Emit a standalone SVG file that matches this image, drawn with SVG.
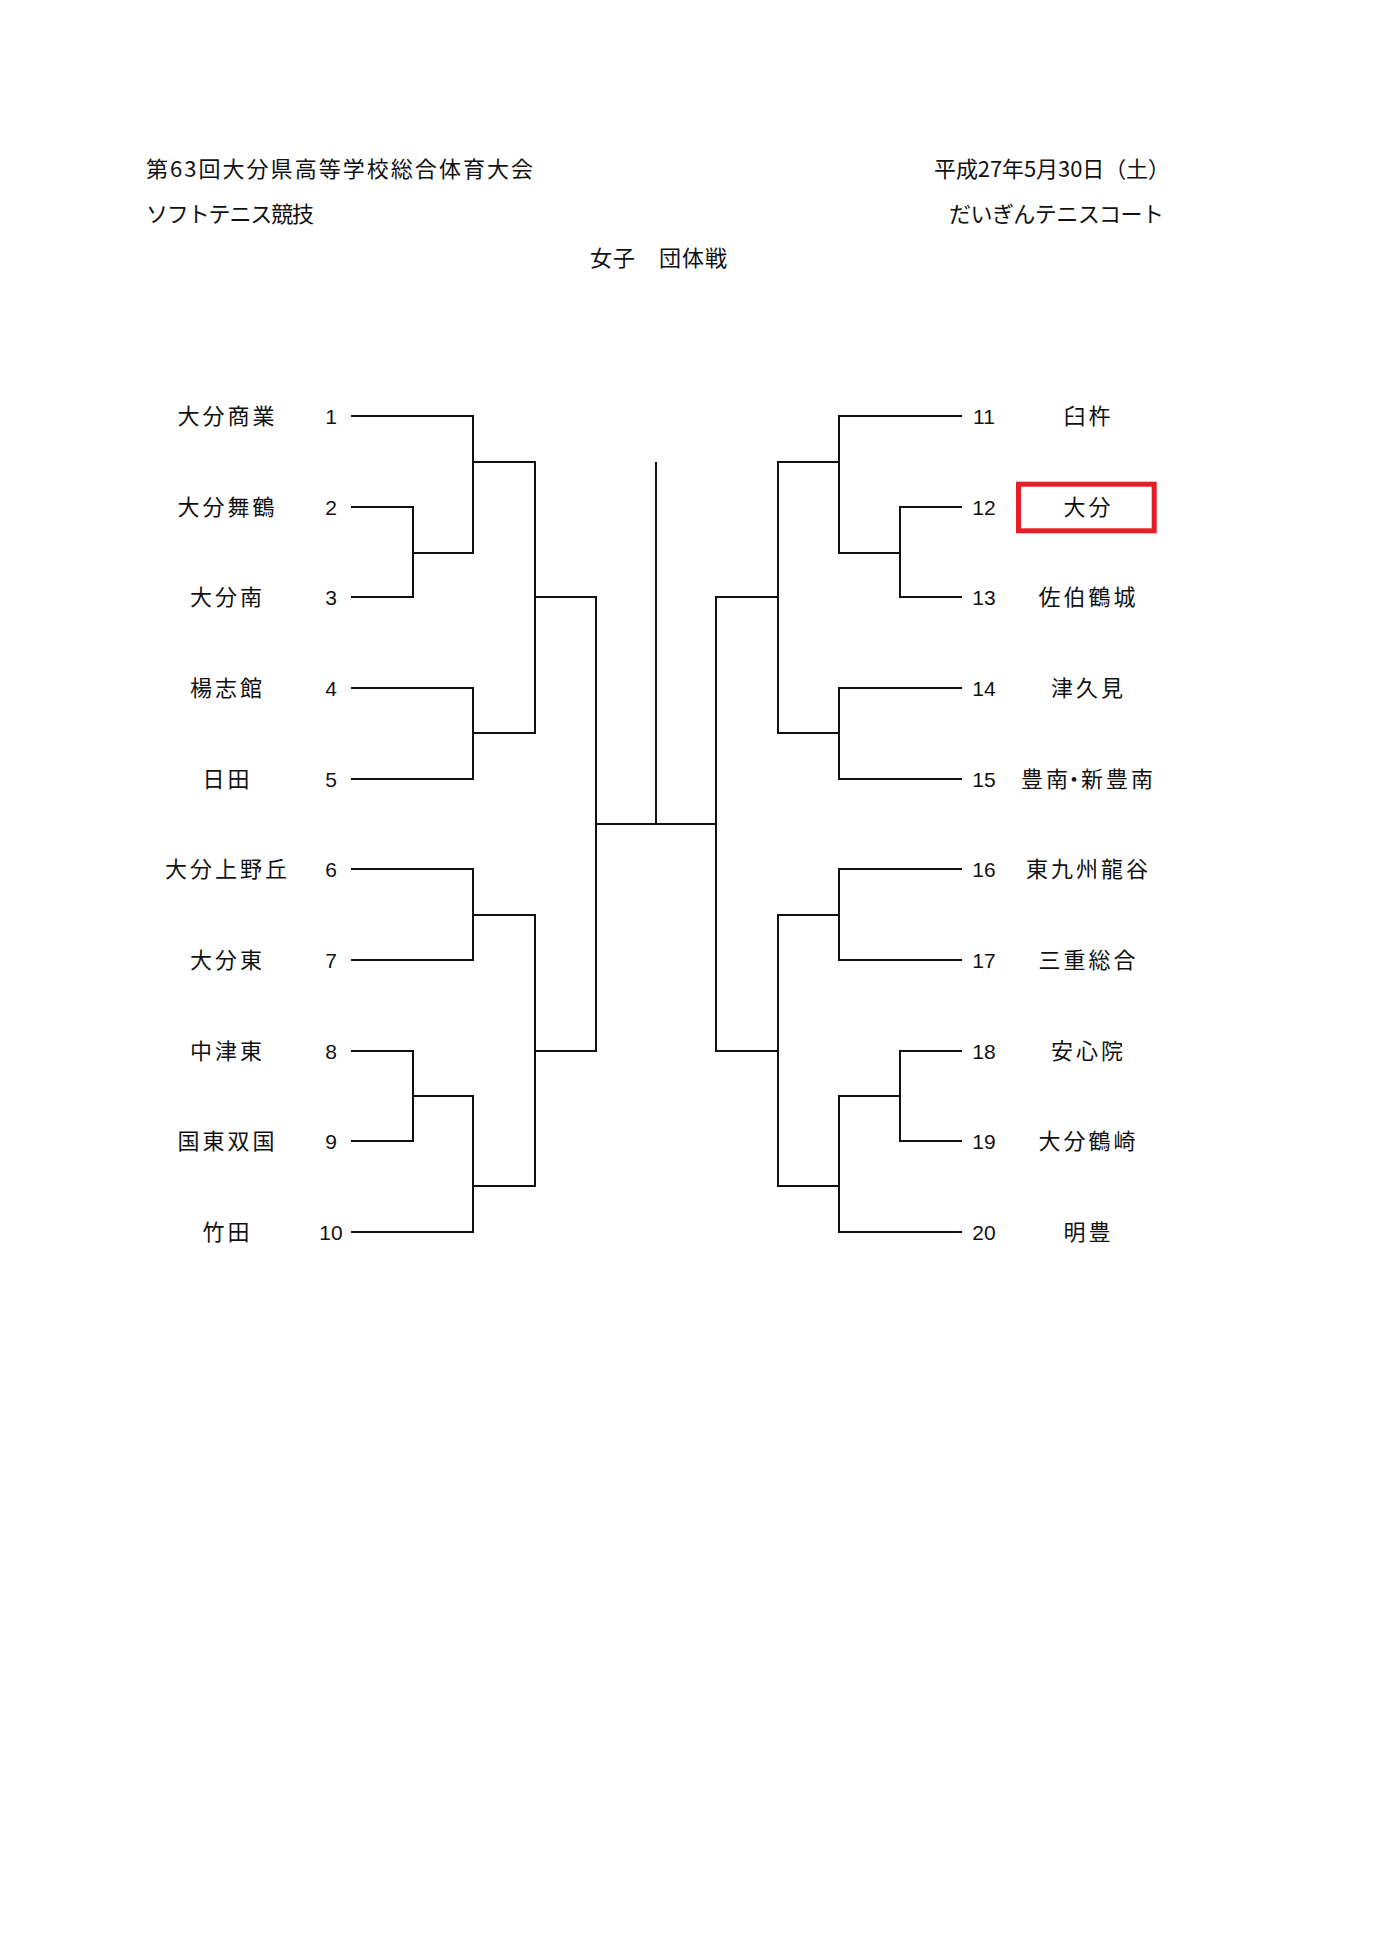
<svg xmlns="http://www.w3.org/2000/svg" width="1373" height="1942" viewBox="0 0 1373 1942">
<style>
.bg{fill:#ffffff}
.hd{font-family:"Noto Sans CJK JP","Liberation Sans",sans-serif;font-size:22px;fill:#111}
.nm{font-family:"Noto Sans CJK JP","Liberation Sans",sans-serif;font-size:22px;letter-spacing:3px;fill:#111;text-anchor:middle}
.no{font-family:"Liberation Sans","Noto Sans CJK JP",sans-serif;font-size:21px;fill:#111;text-anchor:middle}
.ln{fill:none;stroke:#111;stroke-width:2;stroke-linecap:square;stroke-linejoin:miter}
.hl{fill:none;stroke:#e31e26;stroke-width:5}
</style>
<rect class="bg" x="0" y="0" width="1373" height="1942"/>
<g id="header">
<text class="hd" x="146" y="177" textLength="387" lengthAdjust="spacing">第63回大分県高等学校総合体育大会</text>
<text class="hd" x="146" y="222" textLength="168" lengthAdjust="spacing">ソフトテニス競技</text>
<text class="hd" x="934" y="177" textLength="236" lengthAdjust="spacing">平成27年5月30日（土）</text>
<text class="hd" x="949" y="222" textLength="215" lengthAdjust="spacing">だいぎんテニスコート</text>
<text class="hd" x="590" y="266" textLength="137" lengthAdjust="spacing">女子　団体戦</text>
</g>
<g id="connectors">
<path class="ln" d="M352 416 H473 V553 M352 507 H413 V597 H352 M413 553 H473 M473 462 H535"/>
<path class="ln" d="M352 688 H473 V779 H352 M473 733 H535 M535 462 V733 M535 597 H596"/>
<path class="ln" d="M352 869 H473 V960 H352 M473 915 H535"/>
<path class="ln" d="M352 1051 H413 V1141 H352 M413 1096 H473 M352 1232 H473 V1096 M473 1186 H535"/>
<path class="ln" d="M535 915 V1186 M535 1051 H596 M596 597 V1051 M596 824 H716"/>
<path class="ln" d="M656 463 V824"/>
<path class="ln" d="M961 416 H839 V553 M961 507 H900 V597 H961 M900 553 H839 M839 462 H778"/>
<path class="ln" d="M961 688 H839 V779 H961 M839 733 H778 M778 462 V733 M778 597 H716"/>
<path class="ln" d="M961 869 H839 V960 H961 M839 915 H778"/>
<path class="ln" d="M961 1051 H900 V1141 H961 M900 1096 H839 M961 1232 H839 V1096 M839 1186 H778"/>
<path class="ln" d="M778 915 V1186 M778 1051 H716 M716 597 V1051"/>
</g>
<g id="team1"><text class="nm" x="227.5" y="424">大分商業</text><text class="no" x="331" y="424">1</text></g>
<g id="team2"><text class="nm" x="227.5" y="515">大分舞鶴</text><text class="no" x="331" y="515">2</text></g>
<g id="team3"><text class="nm" x="227.5" y="605">大分南</text><text class="no" x="331" y="605">3</text></g>
<g id="team4"><text class="nm" x="227.5" y="696">楊志館</text><text class="no" x="331" y="696">4</text></g>
<g id="team5"><text class="nm" x="227.5" y="787">日田</text><text class="no" x="331" y="787">5</text></g>
<g id="team6"><text class="nm" x="227.5" y="877">大分上野丘</text><text class="no" x="331" y="877">6</text></g>
<g id="team7"><text class="nm" x="227.5" y="968">大分東</text><text class="no" x="331" y="968">7</text></g>
<g id="team8"><text class="nm" x="227.5" y="1059">中津東</text><text class="no" x="331" y="1059">8</text></g>
<g id="team9"><text class="nm" x="227.5" y="1149">国東双国</text><text class="no" x="331" y="1149">9</text></g>
<g id="team10"><text class="nm" x="227.5" y="1240">竹田</text><text class="no" x="331" y="1240">10</text></g>
<g id="team11"><text class="no" x="984" y="424">11</text><text class="nm" x="1088.5" y="424">臼杵</text></g>
<g id="team12"><text class="no" x="984" y="515">12</text><rect class="hl" x="1018.5" y="484.2" width="135.7" height="46.6"/><text class="nm" x="1088.5" y="515">大分</text></g>
<g id="team13"><text class="no" x="984" y="605">13</text><text class="nm" x="1088.5" y="605">佐伯鶴城</text></g>
<g id="team14"><text class="no" x="984" y="696">14</text><text class="nm" x="1088.5" y="696">津久見</text></g>
<g id="team15"><text class="no" x="984" y="787">15</text><text class="nm" x="1088.5" y="787" dx="0 0 -8 -7 0 0">豊南・新豊南</text></g>
<g id="team16"><text class="no" x="984" y="877">16</text><text class="nm" x="1088.5" y="877">東九州龍谷</text></g>
<g id="team17"><text class="no" x="984" y="968">17</text><text class="nm" x="1088.5" y="968">三重総合</text></g>
<g id="team18"><text class="no" x="984" y="1059">18</text><text class="nm" x="1088.5" y="1059">安心院</text></g>
<g id="team19"><text class="no" x="984" y="1149">19</text><text class="nm" x="1088.5" y="1149">大分鶴崎</text></g>
<g id="team20"><text class="no" x="984" y="1240">20</text><text class="nm" x="1088.5" y="1240">明豊</text></g>
</svg>
